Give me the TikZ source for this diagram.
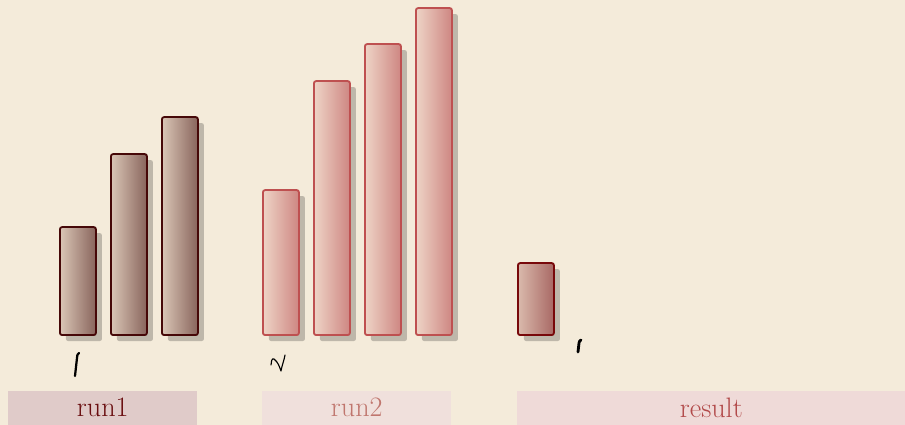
\documentclass[tikz,border=0pt]{standalone}
\usepackage{tikz}
\usetikzlibrary{shadows,positioning}
\definecolor{bgbeige}{RGB}{244,235,218}
\definecolor{barshade}{RGB}{190,183,170}
\definecolor{oneline}{RGB}{70,8,8}
\definecolor{oneleft}{RGB}{218,198,182}
\definecolor{oneright}{RGB}{136,100,92}
\definecolor{twoline}{RGB}{190,80,80}
\definecolor{twoleft}{RGB}{238,212,198}
\definecolor{tworight}{RGB}{206,134,130}
\definecolor{resline}{RGB}{120,8,10}
\definecolor{resleft}{RGB}{218,186,172}
\definecolor{resright}{RGB}{168,104,100}
\definecolor{onetag}{RGB}{224,203,201}
\definecolor{twotag}{RGB}{240,224,220}
\definecolor{restag}{RGB}{239,218,216}
\definecolor{onetext}{RGB}{106,14,16}
\definecolor{twotext}{RGB}{192,118,110}
\definecolor{restext}{RGB}{178,74,74}
\tikzset{
    % one bar of the chart
    bar/.style={
        rectangle,
        rounded corners=1.6pt,
        line width=1.3pt,
        inner sep=0pt,
        minimum width=0.9cm,
        anchor=south west,
        drop shadow={shadow xshift=0.15cm, shadow yshift=-0.15cm, fill=barshade, opacity=1}
    },
    runonebar/.style={bar, draw=oneline, left color=oneleft, right color=oneright},
    runtwobar/.style={bar, draw=twoline, left color=twoleft, right color=tworight},
    resultbar/.style={bar, draw=resline, left color=resleft, right color=resright},
    % label strip under each group
    tagbox/.style={
        rectangle,
        inner sep=0pt,
        minimum height=0.85cm,
        anchor=south west,
        font=\fontsize{20}{22}\selectfont
    },
    scrawl/.style={line width=1.6pt, black, line cap=round, line join=round}
}

\begin{document}
\begin{tikzpicture}[x=0.025cm, y=0.025cm]
	\fill[bgbeige] (0,0) rectangle (905,425);
	\useasboundingbox (0,0) rectangle (905,425);

	\foreach \h [count=\i] in {108,181,218}
		\node[runonebar, minimum height={\h*0.025cm}] (run1bar\i) at ({59+51*(\i-1)},89) {};

	\foreach \h [count=\i] in {145,254,291,327}
		\node[runtwobar, minimum height={\h*0.025cm}] (run2bar\i) at ({262+51*(\i-1)},89) {};

	\node[resultbar, minimum height={72*0.025cm}] (resbar) at (517,89) {};

	\node[tagbox, fill=onetag, minimum width={189*0.025cm}, text=onetext] (run1tag) at (8,0) {run1};
	\node[tagbox, fill=twotag, minimum width={189*0.025cm}, text=twotext] (run2tag) at (262,0) {run2};
	\node[tagbox, fill=restag, minimum width={388*0.025cm}, text=restext] (restag) at (517,0) {result};

	% small marks under the bars
	\draw[scrawl] (75,49) -- (77,67) to[out=80, in=200] (79,72);
	\draw[scrawl, line width=0.8pt] (271,60) to[out=90, in=150] (274,66) to[out=-40, in=110] (281,54) to[out=80, in=-100] (285,70);
	\draw[scrawl, line width=2pt] (578,73) -- (579,82) to[out=80, in=200] (581,85);
\end{tikzpicture}
\end{document}
